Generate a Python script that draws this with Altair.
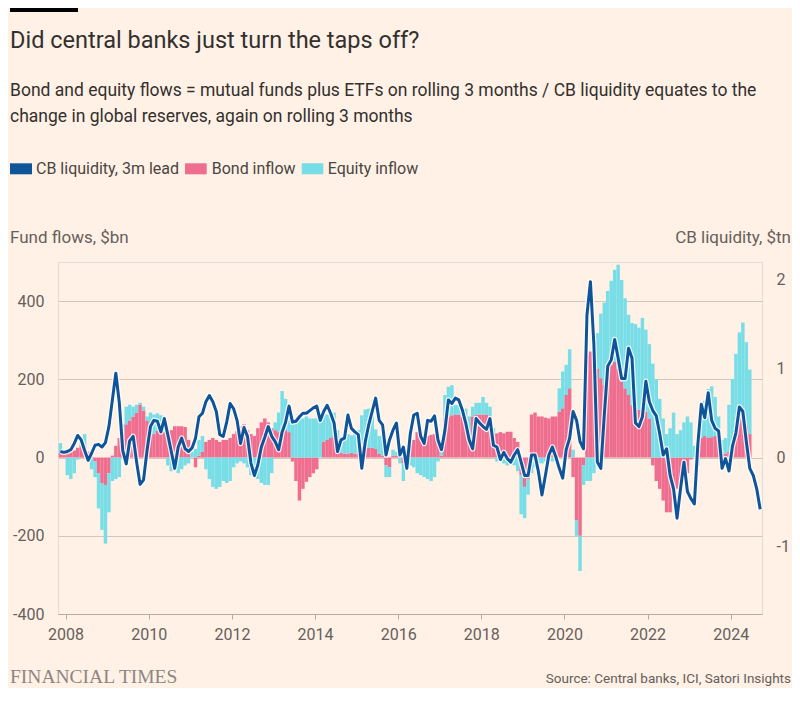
import altair as alt
import pandas as pd

# ---------------- data (monthly, first month = Nov 2007) ----------------
START_YEAR = 2007
START_MONTH = 11

# Bond fund inflows, rolling 3 months ($bn), Nov 2007 - Jun 2024
bond_inflow = [
    12, 12,                                                     # 2007 Nov-Dec
    12, 14, 18, 25, 30, 28, 15, 3, -10, -40, -65, -70,          # 2008
    -40, 5, 30, 50, 65, 85, 95, 105, 115, 135, 120, 95,         # 2009
    65, 60, 68, 68, 65, 55, 70, 80, 80, 80, 78, 45,             # 2010
    0, -25, 5, 15, 40, 45, 50, 45, 40, 45, 45, 50,              # 2011
    60, 68, 80, 85, 70, 60, 55, 75, 90, 100, 90, 75,            # 2012
    70, 65, 55, 70, 65, -10, -60, -110, -80, -62, -50, -40,     # 2013
    -30, 0, 40, 45, 50, 55, 45, 12, 10, 10, 12, 10,             # 2014
    10, 28, 28, 25, 25, 22, 10, 5, -20, -25, 5, 5,              # 2015
    5, -15, 2, 35, 45, 65, 65, 57, 55, 58, 60, 40,              # 2016
    5, 100, 105, 108, 110, 110, 105, 100, 45, 105, 110, 110,    # 2017
    110, 110, 105, 58, 62, 65, 62, 66, 66, 50, 40, -45,         # 2018
    -75, -55, 110, 115, 105, 105, 102, 100, 105, 105, 117, 126, # 2019
    160, 177, -50, -160, -200, -20, 262, 271, 237, 228, 203, 186,  # 2020
    211, 237, 245, 228, 194, 177, 160, 134, 126, 122, 122, 117, # 2021
    100, -20, -60, -80, -110, -140, -140, -105, -80, -70, -50, -40,  # 2022
    -5, 0, 30, 50, 55, 50, 52, 55, 45, 10, 10, 15,              # 2023
    30, 55, 130, 115, 80, 60,                                   # 2024 Jan-Jun
]

# Equity fund inflows, rolling 3 months ($bn), Nov 2007 - Jun 2024
equity_inflow = [
    25, 5,
    -45, -55, -40, -5, 10, 32, -10, -30, -40, -90, -120, -150,
    -100, -60, -55, -50, 20, 45, 40, 25, 20, 5, 10, 10,
    50, 50, 45, 40, 35, -20, -35, -30, -40, -30, -20, -15,
    15, 22, 40, 40, -30, -55, -75, -80, -75, -60, -65, -60,
    -25, -15, -10, -15, -25, -45, -40, -55, -65, -70, -70, -40,
    20, 50, 115, 80, 40, 85, 100, 110, 100, 105, 100, 100,
    100, 95, 70, 65, 60, 60, 25, 40, 45, 50, 45, 55,
    60, 80, 95, 100, 90, 50, 45, 55, -30, -25, 15, 10,
    -15, -45, 20, -20, -25, -40, -45, -50, -55, -60, -50, -10,
    10, 60, 76, 77, 24, 25, 20, 25, 60, 25, 30, 30,
    45, 30, 25, 17, -10, -10, -15, -20, -15, -20, -35, -100,
    -80, -40, -40, -25, -15, -15, -10, -5, -10, -5, 60, 94,
    77, 100, 20, -40, -90, -50, -60, -60, -40, 90, 165, 210,
    215, 215, 235, 265, 260, 230, 205, 210, 215, 210, 235, 210,
    190, 240, 200, 150, 100, 60, 75, 115, 60, 70, 90, 105,
    90, 30, -20, 80, 90, 125, 130, 100, 60, 35, 40, 120,
    170, 210, 190, 230, 215, 165,
]

# CB liquidity (change in global reserves, rolling 3m, 3m lead, $tn), Nov 2007 - Sep 2024
cb_liquidity = [
    0.07, 0.06,
    0.07, 0.09, 0.16, 0.25, 0.20, 0.08, -0.03, 0.05, 0.14, 0.15, 0.12, 0.17,
    0.35, 0.65, 0.95, 0.62, 0.08, -0.07, 0.19, 0.24, -0.05, -0.30, -0.25, 0.08,
    0.35, 0.42, 0.41, 0.29, 0.44, 0.26, 0.07, -0.12, 0.12, 0.22, 0.10, 0.07,
    0.11, 0.22, 0.46, 0.50, 0.63, 0.70, 0.63, 0.52, 0.26, 0.24, 0.40, 0.61,
    0.55, 0.42, 0.16, 0.34, 0.24, -0.06, -0.20, -0.08, 0.12, 0.23, 0.35, 0.24,
    0.18, 0.09, 0.29, 0.40, 0.58, 0.40, 0.41, 0.46, 0.50, 0.50, 0.53, 0.56,
    0.58, 0.42, 0.52, 0.59, 0.50, 0.39, 0.07, 0.20, 0.22, 0.48, 0.33, 0.29,
    0.26, -0.12, 0.18, 0.37, 0.52, 0.67, 0.42, 0.37, 0.03, 0.20, 0.31, 0.39,
    0.03, 0.12, -0.12, 0.27, 0.48, 0.50, 0.24, 0.16, 0.42, 0.41, 0.47, 0.20,
    0.09, 0.31, 0.65, 0.61, 0.67, 0.65, 0.54, 0.39, 0.20, 0.10, 0.44, 0.39,
    0.35, 0.32, 0.44, 0.14, 0.12, -0.02, 0.06, -0.01, -0.05, 0.03, 0.09, -0.05,
    -0.20, -0.20, 0.03, 0.03, -0.16, -0.42, -0.20, 0.03, 0.12, 0.01, -0.12, -0.23,
    0.09, 0.22, 0.52, 0.42, 0.18, 0.10, 1.61, 1.98, 1.27, -0.05, -0.12, 0.48,
    1.03, 1.10, 1.33, 1.12, 0.89, 0.89, 1.23, 1.12, 0.39, 0.35, 0.46, 0.86,
    0.63, 0.53, 0.47, 0.27, 0.03, 0.10, -0.20, -0.35, -0.68, -0.35, -0.05, -0.38,
    -0.46, -0.52, 0.15, 0.60, 0.45, 0.73, 0.42, 0.33, 0.30, -0.12, -0.01, -0.15,
    0.13, 0.28, 0.57, 0.52, 0.18, -0.12, -0.20, -0.35, -0.58,
]

year_ticks = [2008, 2010, 2012, 2014, 2016, 2018, 2020, 2022, 2024]
left_ticks = [-400, -200, 0, 200, 400]
right_ticks = [-1, 0, 1, 2]

TITLE = "Did central banks just turn the taps off?"
SUB1 = "Bond and equity flows = mutual funds plus ETFs on rolling 3 months / CB liquidity equates to the"
SUB2 = "change in global reserves, again on rolling 3 months"
SOURCE = "Source: Central banks, ICI, Satori Insights"

# ---------------- style ----------------
PAPER = "#fff1e5"
BLUE = "#0f5499"
PINK = "#ef6d8f"
CYAN = "#77dde7"
GRID = "#d2c7bd"
AXISLINE = "#b4aba3"
DARK = "#33302e"
MID = "#66605c"
FONT = "Roboto"


def month_pos(i):
    return START_YEAR + (START_MONTH - 1 + i) / 12.0


rows = []
for i, (b, e) in enumerate(zip(bond_inflow, equity_inflow)):
    x0, x1 = month_pos(i), month_pos(i + 1)
    rows.append({"x0": x0, "x1": x1, "series": "Bond inflow", "lo": 0, "hi": b})
    base = b if (b >= 0) == (e >= 0) else 0
    rows.append({"x0": x0, "x1": x1, "series": "Equity inflow", "lo": base, "hi": base + e})
bars_df = pd.DataFrame(rows)

line_df = pd.DataFrame({
    "xm": [month_pos(i) + 1 / 24 for i in range(len(cb_liquidity))],
    "cb": cb_liquidity,
})

xscale = alt.Scale(domain=[2007.817, 2024.752], nice=False, zero=False)
lscale = alt.Scale(domain=[-400, 500], nice=False, zero=False)
rscale = alt.Scale(domain=[-1.758, 2.201], nice=False, zero=False)

x_axis = alt.Axis(values=year_ticks, labelExpr="'' + datum.value", title=None, grid=False,
                  domain=True, domainColor=AXISLINE, domainWidth=1.2, ticks=True, tickSize=5,
                  tickColor=AXISLINE, labelPadding=7, labelFontSize=16, labelColor=MID,
                  labelFont=FONT)

bars = alt.Chart(bars_df).mark_bar(strokeWidth=0).encode(
    x=alt.X("x0:Q", scale=xscale, axis=x_axis),
    x2="x1:Q",
    y=alt.Y("lo:Q", scale=lscale,
            axis=alt.Axis(values=left_ticks, labelExpr="'' + datum.value", title=None,
                          grid=True, gridColor=GRID, gridWidth=1, domain=False, ticks=False,
                          labelPadding=14, labelFontSize=16, labelColor=MID, labelFont=FONT)),
    y2="hi:Q",
    color=alt.Color("series:N", scale=alt.Scale(domain=["Bond inflow", "Equity inflow"],
                                                 range=[PINK, CYAN]), legend=None),
)

halo = alt.Chart(line_df).mark_line(color="#ffffff", strokeWidth=5.5, opacity=0.85,
                                    strokeJoin="round").encode(
    x=alt.X("xm:Q", scale=xscale),
    y=alt.Y("cb:Q", scale=rscale, axis=None),
)

line = alt.Chart(line_df).mark_line(color=BLUE, strokeWidth=3, strokeJoin="round").encode(
    x=alt.X("xm:Q", scale=xscale),
    y=alt.Y("cb:Q", scale=rscale,
            axis=alt.Axis(values=right_ticks, labelExpr="'' + datum.value", title=None,
                          orient="right", grid=False, domain=False, ticks=False,
                          labelPadding=14, labelFontSize=16, labelColor=MID, labelFont=FONT)),
)

dummy = pd.DataFrame({"d": [0]})


def txt(s, x, y, size, color=DARK, align="left", font=FONT):
    return alt.Chart(dummy).mark_text(align=align, baseline="alphabetic", fontSize=size,
                                      font=font, color=color).encode(
        x=alt.value(x), y=alt.value(y), text=alt.value(s))


def box(x, x2, y, y2, color):
    return alt.Chart(dummy).mark_rect(color=color).encode(
        x=alt.value(x), x2=alt.value(x2), y=alt.value(y), y2=alt.value(y2))


decor = [
    box(-48, 20, -254, -250, "#000000"),
    txt(TITLE, -48, -214.5, 23.5),
    txt(SUB1, -48, -166.5, 17.5),
    txt(SUB2, -48, -140.5, 17.5),
    box(-48, -26, -98.7, -87.7, BLUE),
    txt("CB liquidity, 3m lead", -22, -87.6, 16, color="#4a4542"),
    box(127, 148.7, -98.7, -87.7, PINK),
    txt("Bond inflow", 153.7, -87.6, 16, color="#4a4542"),
    box(243.7, 265.3, -98.7, -87.7, CYAN),
    txt("Equity inflow", 269.7, -87.6, 16, color="#4a4542"),
    txt("Fund flows, $bn", -48, -19.2, 17, color=MID),
    txt("CB liquidity, $tn", 733, -19.2, 17, color=MID, align="right"),
    txt("FINANCIAL TIMES", -48, 421, 19.5, color="#8e8681", font="Liberation Serif"),
    txt(SOURCE, 733, 421, 13.5, color=MID, align="right"),
]

chart = alt.layer(bars, halo, line, *decor).resolve_scale(y="independent").properties(
    width=704,
    height=352,
    autosize=alt.AutoSizeParams(type="none"),
    padding={"left": 50, "top": 254, "right": 30, "bottom": 74},
).configure_view(stroke=None).configure(background=PAPER)

chart.save("out.html", embed_options={"renderer": "svg", "actions": False})
